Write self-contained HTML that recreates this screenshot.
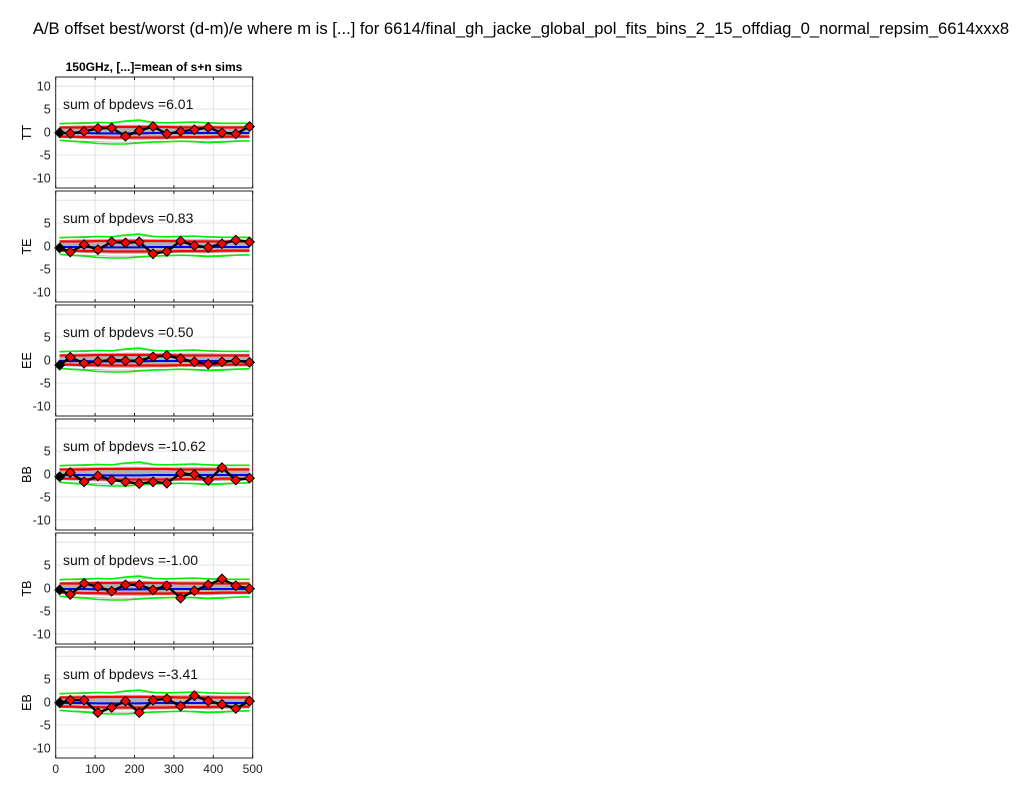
<!DOCTYPE html>
<html><head><meta charset="utf-8"><style>
body{margin:0;background:#fff;width:1031px;height:793px;overflow:hidden;font-family:"Liberation Sans",sans-serif}
</style></head><body>
<svg id="c" width="1031" height="793" xmlns="http://www.w3.org/2000/svg">
<text x="521" y="34" text-anchor="middle" font-size="16.6" font-family="Liberation Sans">A/B offset best/worst (d-m)/e where m is [...] for 6614/final_gh_jacke_global_pol_fits_bins_2_15_offdiag_0_normal_repsim_6614xxx8</text>
<text x="154" y="71" text-anchor="middle" font-size="12" font-weight="bold" font-family="Liberation Sans">150GHz, [...]=mean of s+n sims</text>
</svg>
<script>
const ells=[10,37,72,107,142,177,212,247,282,317,352,387,422,457,492];
const specs=["TT","TE","EE","BB","TB","EB"];
const sums=["6.01","0.83","0.50","-10.62","-1.00","-3.41"];
const vTT=[-0.15,-0.3,0.15,0.8,0.9,-0.9,0.3,1.2,-0.4,0.15,0.5,1.0,-0.15,-0.4,1.2];
const vTE=[-0.4,-1.3,0.3,-0.8,0.9,0.7,0.9,-1.7,-1.2,1.1,0.1,-0.3,0.5,1.3,0.9];
const vEE=[-1.1,0.6,-0.7,-0.3,0,-0.15,-0.15,0.7,1.0,0.3,-0.4,-0.9,-0.4,-0.15,-0.5];
const vBB=[-0.6,0.3,-1.7,-0.4,-1.3,-1.7,-2.1,-1.7,-2.0,0.15,-0.1,-1.4,1.4,-1.3,-0.9];
const vTB=[-0.4,-1.4,1.0,0.3,-0.7,0.7,0.7,-0.4,0.5,-2.2,-0.6,0.7,2.0,0.5,-0.15];
const vEB=[-0.15,0.4,0.4,-2.3,-1.2,0.2,-2.3,0.4,0.7,-0.9,1.4,0.2,-0.5,-1.4,0.2];
const greenHi=[1.8,1.9,1.9,2.1,2.0,2.4,2.6,2.1,2.0,2.1,2.2,2.0,1.9,1.9,1.9];
const greenLo=[-1.8,-2.0,-2.2,-2.5,-2.6,-2.6,-2.4,-2.2,-2.1,-2.0,-2.1,-2.3,-2.2,-2.0,-1.9];
const redHi=[1.0,1.0,1.0,1.1,1.1,1.1,1.1,1.1,1.1,1.0,1.0,1.0,1.0,1.0,1.0];
const redLo=[-1.0,-1.0,-1.1,-1.1,-1.2,-1.2,-1.2,-1.2,-1.2,-1.1,-1.1,-1.1,-1.0,-1.0,-1.0];
const grayHi=[1.3,1.4,1.5,1.5,1.5,1.6,1.6,1.5,1.5,1.5,1.5,1.5,1.4,1.4,1.4];
const grayLo=[-1.3,-1.4,-1.5,-1.6,-1.7,-1.7,-1.7,-1.6,-1.6,-1.5,-1.5,-1.6,-1.5,-1.4,-1.4];
const blueMean=[-0.2,-0.2,-0.2,-0.3,-0.3,-0.3,-0.3,-0.2,-0.2,-0.2,-0.2,-0.2,-0.2,-0.2,-0.2];
const vals=[vTT,vTE,vEE,vBB,vTB,vEB];
const xTicks=[0,100,200,300,400,500];
const yTicks=[10,5,0,-5,-10];
const NS="http://www.w3.org/2000/svg";
const svg=document.getElementById('c');
const X0=55.7,X1=252.7,PH=111,PTOP=77,PSTEP=114,YMIN=-12.2,YMAX=12;
function sx(v){return X0+(v/500)*(X1-X0);}
function mk(t,a,p){const e=document.createElementNS(NS,t);for(const k in a)e.setAttribute(k,a[k]);(p||svg).appendChild(e);return e;}
function line(arr,sy){return arr.map((v,i)=>sx(ells[i]).toFixed(1)+','+sy(v).toFixed(1)).join(' ');}
specs.forEach((s,pi)=>{
  const top=PTOP+pi*PSTEP;
  const sy=v=>top+(YMAX-v)/(YMAX-YMIN)*PH;
  const g=mk('g',{});
  
  
  mk('rect',{x:X0,y:top,width:X1-X0,height:PH,fill:'#fff'},g);
  xTicks.slice(1,-1).forEach(t=>{mk('line',{x1:sx(t),x2:sx(t),y1:top,y2:top+PH,stroke:'#dcdcdc','stroke-width':0.8},g);});
  yTicks.forEach(t=>{mk('line',{x1:X0,x2:X1,y1:sy(t),y2:sy(t),stroke:'#dcdcdc','stroke-width':0.8},g);
    if(pi===0||t!==10){const tl=mk('text',{x:X0-5,y:sy(t)+4.5,'text-anchor':'end','font-size':12.5,fill:'#222'},g);tl.textContent=t;
    
    }});
  const band=line(grayHi,sy)+' '+line(grayLo,sy).split(' ').reverse().join(' ');
  mk('polygon',{points:band,fill:'#b0b0b0'},g);
  mk('polyline',{points:line(grayHi.map(v=>v+0.6),sy),fill:'none',stroke:'#aaa','stroke-width':0.8},g);
  mk('polyline',{points:line(grayLo.map(v=>v-0.5),sy),fill:'none',stroke:'#aaa','stroke-width':0.8},g);
  mk('polyline',{points:line(blueMean,sy),fill:'none',stroke:'#0000ff','stroke-width':2},g);
  mk('polyline',{points:line(redHi,sy),fill:'none',stroke:'#ff0000','stroke-width':2.2},g);
  mk('polyline',{points:line(redLo,sy),fill:'none',stroke:'#ff0000','stroke-width':2.2},g);
  mk('polyline',{points:line(greenHi,sy),fill:'none',stroke:'#00ee00','stroke-width':1.6},g);
  mk('polyline',{points:line(greenLo,sy),fill:'none',stroke:'#00ee00','stroke-width':1.6},g);
  const d=vals[pi];
  const pl=mk('polyline',{points:line(d,sy),fill:'none',stroke:'#000','stroke-width':2.4},g);
  
  
  d.forEach((v,i)=>{const cx=sx(ells[i]),cy=sy(v),r=4.8;
    const m=mk('polygon',{points:`${cx},${cy-r} ${cx+r},${cy} ${cx},${cy+r} ${cx-r},${cy}`,fill:i===0?'#000':'#ff0000',stroke:'#000','stroke-width':1},g);
    
    });
  const tx=mk('text',{x:63,y:top+32,'font-size':14,fill:'#111'},g);tx.textContent='sum of bpdevs ='+sums[pi];
  
  
  mk('rect',{x:X0,y:top,width:X1-X0,height:PH,fill:'none',stroke:'#222','stroke-width':1},g);
  xTicks.forEach(t=>{mk('line',{x1:sx(t),x2:sx(t),y1:top+PH,y2:top+PH-3,stroke:'#222'},g);mk('line',{x1:sx(t),x2:sx(t),y1:top,y2:top+3,stroke:'#222'},g);});
  const yl=mk('text',{x:0,y:0,'font-size':12.5,'text-anchor':'middle',transform:`translate(31,${top+PH/2}) rotate(-90)`},g);yl.textContent=s;
  
  
  if(pi===specs.length-1){xTicks.forEach(t=>{const xl=mk('text',{x:sx(t),y:top+PH+15,'text-anchor':'middle','font-size':12,fill:'#222'},g);xl.textContent=t;
    
    });}
});
</script>
</body></html>
